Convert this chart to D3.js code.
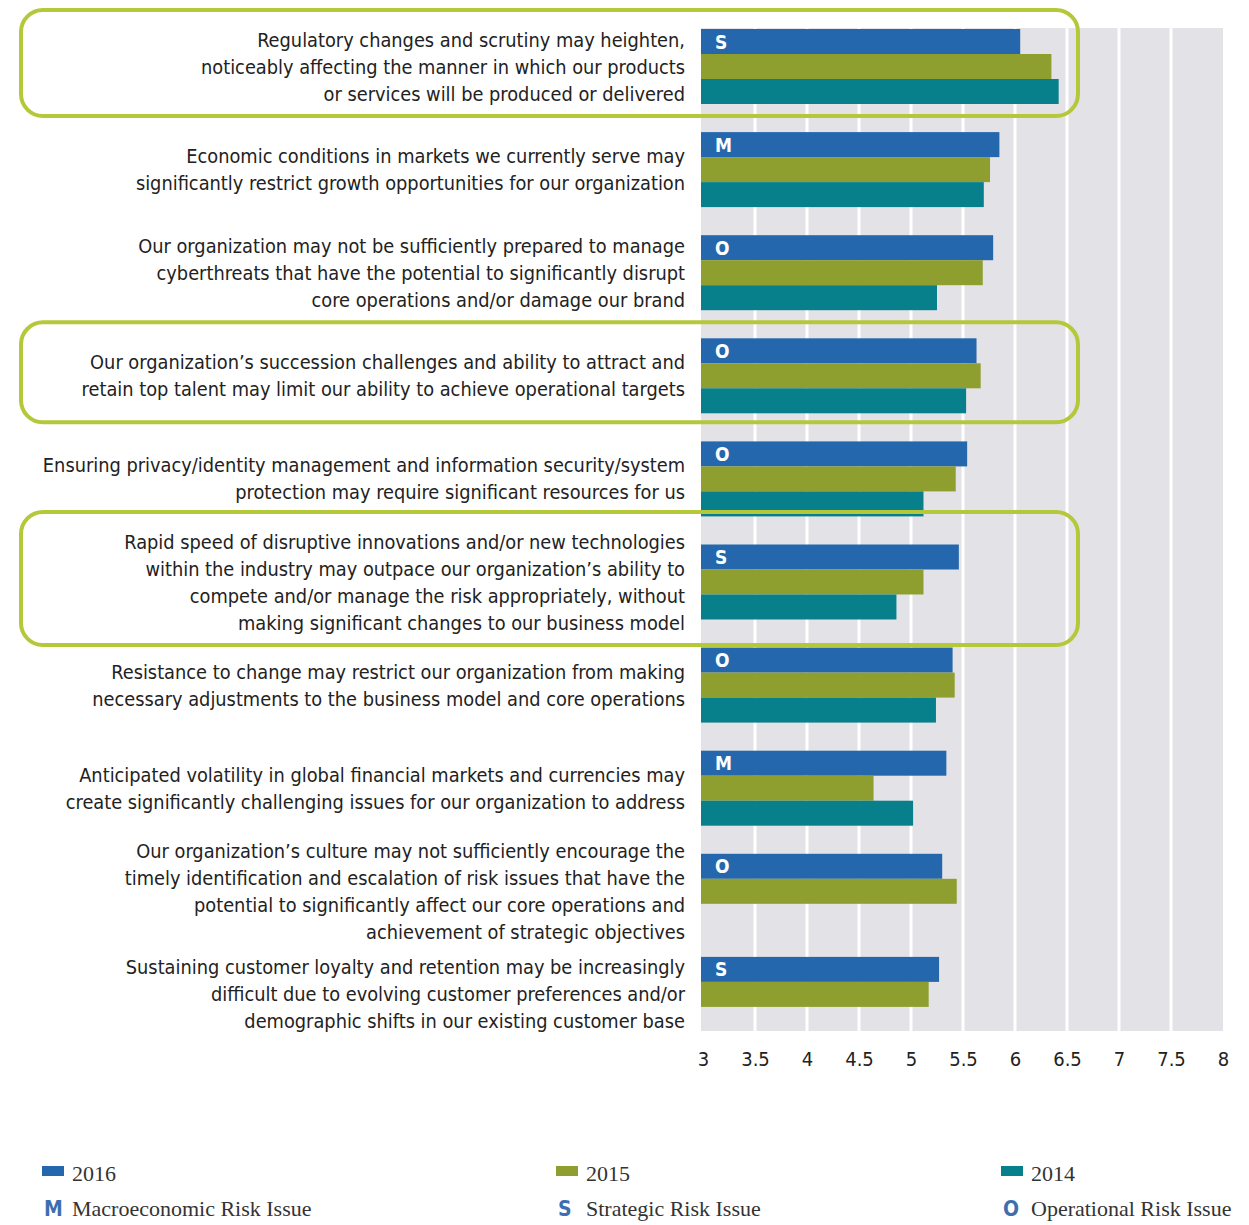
<!DOCTYPE html>
<html>
<head>
<meta charset="utf-8">
<script src="https://cdn.jsdelivr.net/npm/d3@7"></script>
<style>
  body { margin: 0; background: #fff; }
</style>
</head>
<body>
<script>
const width = 1249;
const height = 1225;

// risk statements, one array of lines per category
const categories = [
  ["Regulatory changes and scrutiny may heighten,", "noticeably affecting the manner in which our products", "or services will be produced or delivered"],
  ["Economic conditions in markets we currently serve may", "significantly restrict growth opportunities for our organization"],
  ["Our organization may not be sufficiently prepared to manage", "cyberthreats that have the potential to significantly disrupt", "core operations and/or damage our brand"],
  ["Our organization\u2019s succession challenges and ability to attract and", "retain top talent may limit our ability to achieve operational targets"],
  ["Ensuring privacy/identity management and information security/system", "protection may require significant resources for us"],
  ["Rapid speed of disruptive innovations and/or new technologies", "within the industry may outpace our organization\u2019s ability to", "compete and/or manage the risk appropriately, without", "making significant changes to our business model"],
  ["Resistance to change may restrict our organization from making", "necessary adjustments to the business model and core operations"],
  ["Anticipated volatility in global financial markets and currencies may", "create significantly challenging issues for our organization to address"],
  ["Our organization\u2019s culture may not sufficiently encourage the", "timely identification and escalation of risk issues that have the", "potential to significantly affect our core operations and", "achievement of strategic objectives"],
  ["Sustaining customer loyalty and retention may be increasingly", "difficult due to evolving customer preferences and/or", "demographic shifts in our existing customer base"]
];

const years = ["2016", "2015", "2014"];
const values2016 = [6.05, 5.85, 5.79, 5.63, 5.54, 5.46, 5.40, 5.34, 5.30, 5.27];
const values2015 = [6.35, 5.76, 5.69, 5.67, 5.43, 5.12, 5.42, 4.64, 5.44, 5.17];
const values2014 = [6.42, 5.70, 5.25, 5.53, 5.12, 4.86, 5.24, 5.02, null, null];
const riskTypes = ["S", "M", "O", "O", "O", "S", "O", "M", "O", "S"];
const highlighted = [0, 3, 5];
const tickValues = [3, 3.5, 4, 4.5, 5, 5.5, 6, 6.5, 7, 7.5, 8];

const legendYears = ["2016", "2015", "2014"];
const legendTypes = [["M", "Macroeconomic Risk Issue"], ["S", "Strategic Risk Issue"], ["O", "Operational Risk Issue"]];

const color = d3.scaleOrdinal().domain(years).range(["#2567ad", "#8e9f2f", "#08808c"]);
const sansFont = "'Liberation Sans Narrow', 'DejaVu Sans Condensed', 'Roboto Condensed', sans-serif";
const serifFont = "'Liberation Serif', 'DejaVu Serif', serif";

const svg = d3
  .select("body")
  .append("svg")
  .attr("width", width)
  .attr("height", height);

const x = d3.scaleLinear().domain([3, 8]).range([703, 1223]);

const y = d3
  .scaleBand()
  .domain(d3.range(categories.length))
  .range([29, 29 + 103.1 * categories.length]);

const yInner = d3.scaleBand().domain(years).range([0, 75]);

const rows = categories.map((lines, i) => ({
  i,
  lines,
  type: riskTypes[i],
  values: [
    { year: "2016", v: values2016[i] },
    { year: "2015", v: values2015[i] },
    { year: "2014", v: values2014[i] },
  ].filter((d) => d.v != null),
}));

// grey plot background with white gridlines
svg.append("rect")
  .attr("x", x(3) - 2)
  .attr("y", 28)
  .attr("width", x(8) - x(3) + 2)
  .attr("height", 1031 - 28)
  .attr("fill", "#e3e3e7");

svg.append("g")
  .selectAll("line")
  .data(tickValues.slice(1, -1))
  .join("line")
  .attr("x1", (d) => x(d))
  .attr("x2", (d) => x(d))
  .attr("y1", 28)
  .attr("y2", 1031)
  .attr("stroke", "#fff")
  .attr("stroke-width", 3);

// bars
const group = svg.append("g")
  .selectAll("g")
  .data(rows)
  .join("g")
  .attr("transform", (d) => `translate(0,${y(d.i)})`);

group.selectAll("rect")
  .data((d) => d.values)
  .join("rect")
  .attr("x", x(3) - 2)
  .attr("y", (d) => yInner(d.year))
  .attr("width", (d) => x(d.v) - x(3) + 2)
  .attr("height", yInner.bandwidth())
  .attr("fill", (d) => color(d.year));

group.append("text")
  .attr("x", x(3) + 12)
  .attr("y", yInner("2016") + yInner.bandwidth() / 2 + 7)
  .attr("fill", "#fff")
  .attr("font-family", sansFont)
  .attr("font-weight", "600")
  .attr("font-size", 19)
  .text((d) => d.type);

// statement labels
const lineH = 27;
group.append("text")
  .attr("text-anchor", "end")
  .attr("font-family", sansFont)
  .attr("font-size", 19.8)
  .attr("fill", "#222")
  .each(function (d) {
    const t = d3.select(this);
    const mid = yInner.range()[1] / 2;
    const top = mid - ((d.lines.length - 1) * lineH) / 2;
    d.lines.forEach((ln, k) => {
      t.append("tspan")
        .attr("x", 685)
        .attr("y", top + k * lineH + 7)
        .text(ln);
    });
  });

// highlight boxes
svg.append("g")
  .selectAll("rect")
  .data(highlighted)
  .join("rect")
  .attr("x", 21)
  .attr("width", 1057)
  .attr("y", (i) => {
    const n = categories[i].length;
    const textTop = 37.5 - (n * lineH) / 2;
    return y(i) + Math.min(0, textTop) - 16;
  })
  .attr("height", (i) => {
    const n = categories[i].length;
    const textTop = 37.5 - (n * lineH) / 2;
    const textBot = 37.5 + (n * lineH) / 2;
    return Math.max(75, textBot) - Math.min(0, textTop) + 25;
  })
  .attr("rx", 22)
  .attr("fill", "none")
  .attr("stroke", "#b4c83a")
  .attr("stroke-width", 4);

// x axis
const xAxis = d3.axisBottom(x).tickValues(tickValues).tickSize(0).tickPadding(0).tickFormat(d3.format("~g"));
const ax = svg.append("g").attr("transform", "translate(0,1052)").call(xAxis);
ax.select(".domain").remove();
ax.selectAll("text")
  .attr("font-family", sansFont)
  .attr("font-size", 20)
  .attr("fill", "#222");

// legend
const legendX = [42, 556, 1001];
const leg = svg.append("g");
legendYears.forEach((yr, k) => {
  leg.append("rect")
    .attr("x", legendX[k])
    .attr("y", 1166)
    .attr("width", 22)
    .attr("height", 10)
    .attr("fill", color(yr));
  leg.append("text")
    .attr("x", legendX[k] + 30)
    .attr("y", 1181)
    .attr("font-family", serifFont)
    .attr("font-size", 22)
    .attr("fill", "#333")
    .text(yr);
});
legendTypes.forEach(([code, label], k) => {
  leg.append("text")
    .attr("x", legendX[k] + 2)
    .attr("y", 1216)
    .attr("font-family", sansFont)
    .attr("font-weight", "bold")
    .attr("font-size", 21)
    .attr("fill", "#3d6fb0")
    .text(code);
  leg.append("text")
    .attr("x", legendX[k] + 30)
    .attr("y", 1216)
    .attr("font-family", serifFont)
    .attr("font-size", 22)
    .attr("fill", "#333")
    .text(label);
});
</script>
</body>
</html>
